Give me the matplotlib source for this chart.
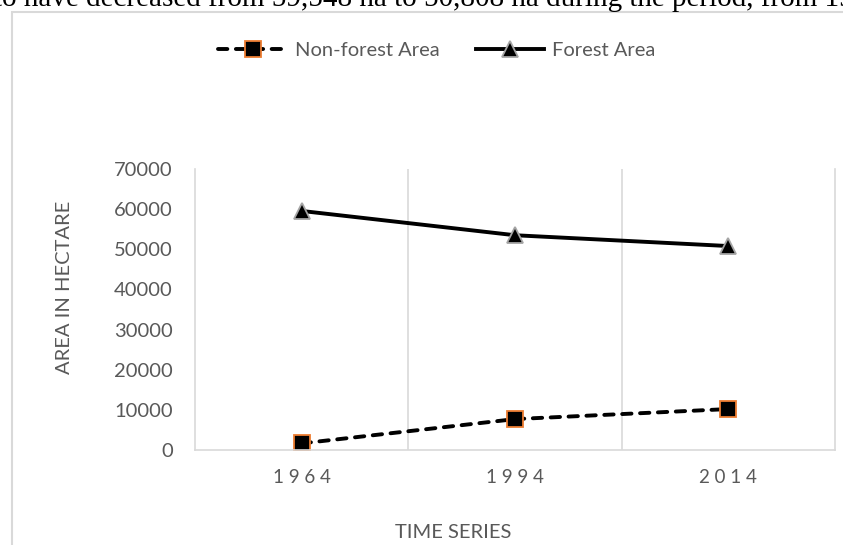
import matplotlib.pyplot as plt
from matplotlib.patches import Rectangle

years = ["1964", "1994", "2014"]
non_forest = [1650, 7700, 10200]
forest = [59548, 53500, 50808]
y_ticks = [0, 10000, 20000, 30000, 40000, 50000, 60000, 70000]

plt.rcParams["font.family"] = ["Lato", "DejaVu Sans"]
grey = "#595959"
light = "#D9D9D9"

fig = plt.figure(figsize=(8.43, 5.45), dpi=100)
ax = fig.add_axes([195 / 843, 1 - 450 / 545, 640 / 843, 281 / 545])

x = range(len(years))
ax.plot(x, non_forest, linestyle=(0, (2.4, 2.2)), dash_capstyle="round",
        color="black", linewidth=2.8,
        marker="s", markersize=11, markerfacecolor="black",
        markeredgecolor="#ED7D31", markeredgewidth=1.3, label="Non-forest Area")
ax.plot(x, forest, linestyle="-", color="black", linewidth=2.8,
        marker="^", markersize=11, markerfacecolor="black",
        markeredgecolor="#A5A5A5", markeredgewidth=1.3, label="Forest Area")

ax.set_xlim(-0.5, 2.5)
ax.set_ylim(0, 70000)
ax.set_yticks(y_ticks)
ax.set_yticklabels([str(v) for v in y_ticks], fontsize=14.5, color=grey)
ax.set_xticks(list(x))
ax.set_xticklabels([" ".join(y) for y in years], fontsize=13.5, color=grey)
ax.tick_params(axis="x", length=0, pad=14)
ax.tick_params(axis="y", length=0, pad=16)

# separators between categories
for b in [0.5, 1.5]:
    ax.axvline(b, color=light, linewidth=1.2, zorder=0)
for s in ax.spines.values():
    s.set_color(light)
    s.set_linewidth(1.2)
ax.spines["top"].set_visible(False)

ax.set_ylabel("AREA IN HECTARE", fontsize=14.5, color=grey, va="center")
ax.yaxis.set_label_coords((65 - 195) / 640, (450 - 287) / 281)
ax.set_xlabel("TIME SERIES", fontsize=14.5, color=grey, va="center")
ax.xaxis.set_label_coords((453 - 195) / 640, (450 - 533) / 281)

fig.legend(loc="center", bbox_to_anchor=(437 / 843, 1 - 50 / 545), ncol=2,
           frameon=False, fontsize=14.5, labelcolor=grey, handlelength=3.4,
           columnspacing=1.8, handletextpad=0.4)

# outer chart border
fig.patches.append(Rectangle((12 / 843, -0.1), 1.0, 1 - 12 / 545 + 0.1,
                             transform=fig.transFigure, fill=False,
                             edgecolor=light, linewidth=1.5))

fig.text(-6 / 843, 1 - 6 / 545,
         "to have decreased from 59,548 ha to 50,808 ha during the period, from 1964",
         va="baseline", ha="left", fontsize=21, family="Liberation Serif",
         color="black")

fig.savefig("out.png", dpi=100)
